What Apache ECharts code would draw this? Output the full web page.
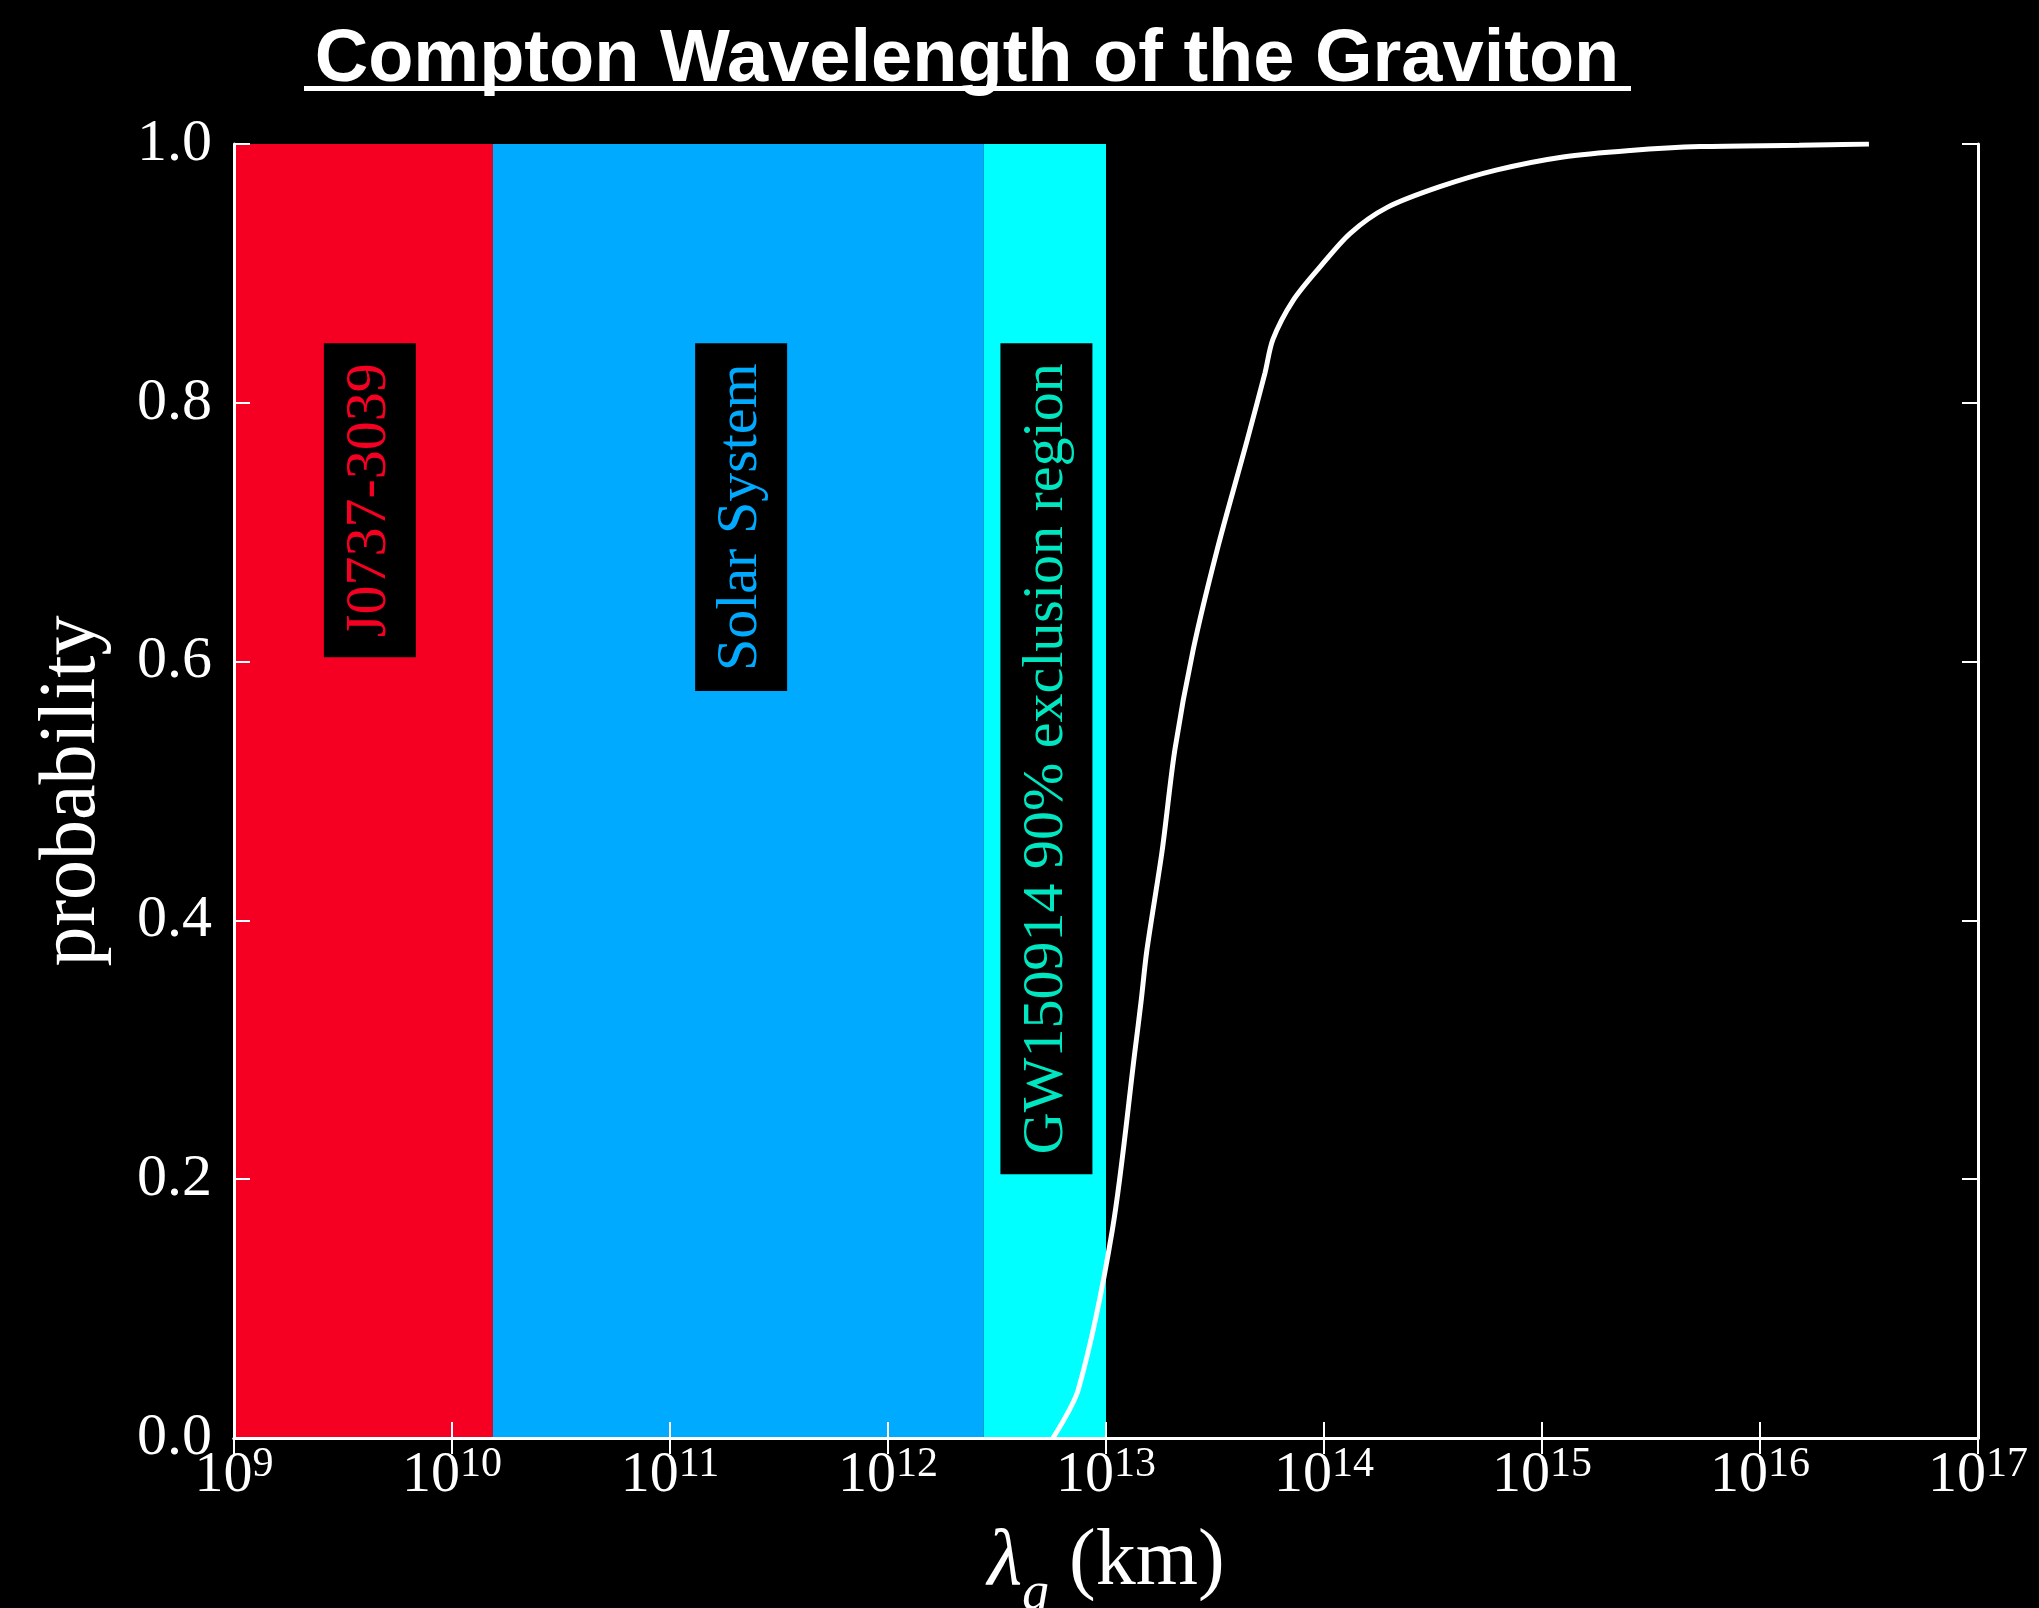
<!DOCTYPE html>
<html>
<head>
<meta charset="utf-8">
<title>Compton Wavelength of the Graviton</title>
<script src="https://cdn.jsdelivr.net/npm/echarts@6/dist/echarts.min.js"></script>
<style>
  html, body { margin: 0; padding: 0; background: #000; }
  #main { width: 2039px; height: 1608px; }
</style>
</head>
<body>
<div id="main"></div>
<script>
// lambda_g in km vs cumulative probability
const lambdaKm = [5.71e12, 7.45e12, 1.07e13, 1.36e13, 1.45e13, 1.54e13, 1.81e13, 2.07e13,
  2.51e13, 3.23e13, 4.44e13, 5.36e13, 5.83e13, 7.21e13, 9.59e13, 1.32e14, 1.95e14,
  3.40e14, 6.22e14, 1.25e15, 2.54e15, 5.31e15, 1.51e16, 3.16e16];
const probability = [0, 0.037, 0.161, 0.300, 0.338, 0.377, 0.454, 0.532,
  0.609, 0.686, 0.771, 0.823, 0.849, 0.879, 0.905, 0.931, 0.951,
  0.967, 0.980, 0.990, 0.995, 0.998, 0.999, 1.0];

// excluded regions (km)
const bandNames = ['J0737-3039', 'Solar System', 'GW150914 90% exclusion region'];
const bandStart = [1e9, 1.54e10, 2.75e12];
const bandEnd = [1.54e10, 2.75e12, 1e13];
// where each vertical label sits (top of its box)
const labelX = [4.2e9, 2.12e11, 5.33e12];
const labelTop = [0.846, 0.846, 0.846];

const bandColors = ['#f50022', '#00aaff', '#00ffff'];
const textColors = ['#f50022', '#00aaff', '#00e6c0'];
const serif = '"Liberation Serif", "DejaVu Serif", serif';

const chart = echarts.init(document.getElementById('main'));

const axisLine = { show: true, lineStyle: { color: '#fff', width: 3 } };
const axisTick = { show: true, inside: true, length: 16, lineStyle: { color: '#fff', width: 2 } };

const option = {
  backgroundColor: '#000',
  animation: false,
  graphic: [
    {
      type: 'text', x: 967, y: 24, z: 20,
      style: {
        text: 'Compton Wavelength of the Graviton',
        font: 'bold 74px "Liberation Sans", Arial, sans-serif',
        fill: '#fff', align: 'center', verticalAlign: 'top'
      }
    },
    { type: 'rect', shape: { x: 304, y: 86, width: 1327, height: 5 }, style: { fill: '#fff' }, z: 20 }
  ],
  grid: { left: 234, right: 61, top: 144, bottom: 170, outerBoundsMode: 'none', containLabel: false },
  xAxis: [
    {
      type: 'log', logBase: 10, min: 1e9, max: 1e17, splitNumber: 8, position: 'bottom', z: 10,
      axisLine: axisLine, axisTick: axisTick, splitLine: { show: false }, minorTick: { show: false },
      axisLabel: {
        margin: 6,
        formatter: function (v) {
          return '{b|10}{e|' + Math.round(Math.log10(v)) + '}';
        },
        rich: {
          b: { fontFamily: serif, fontSize: 58, lineHeight: 64, color: '#fff' },
          e: { fontFamily: serif, fontSize: 42, lineHeight: 42, color: '#fff', verticalAlign: 'top' }
        }
      },
      name: '{l|λ}{g|g}{k| (km)}',
      nameLocation: 'middle', nameGap: 80,
      nameTextStyle: {
        rich: {
          l: { fontFamily: serif, fontStyle: 'italic', fontSize: 80, lineHeight: 90, color: '#fff' },
          g: { fontFamily: serif, fontStyle: 'italic', fontSize: 54, lineHeight: 54, color: '#fff', verticalAlign: 'bottom', padding: [0, 0, -14, 0] },
          k: { fontFamily: serif, fontSize: 80, lineHeight: 90, color: '#fff' }
        }
      }
    },
    {
      type: 'log', logBase: 10, min: 1e9, max: 1e17, splitNumber: 8, position: 'top', z: 10,
      axisLine: axisLine, axisTick: axisTick, splitLine: { show: false }, axisLabel: { show: false }
    }
  ],
  yAxis: [
    {
      type: 'value', min: 0, max: 1, interval: 0.2, position: 'left', z: 10,
      axisLine: axisLine, axisTick: axisTick, splitLine: { show: false },
      axisLabel: {
        margin: 22, fontFamily: serif, fontSize: 60, color: '#fff',
        formatter: function (v) { return v.toFixed(1); }
      },
      name: 'probability', nameLocation: 'middle', nameGap: 121,
      nameTextStyle: { fontFamily: serif, fontSize: 80, color: '#fff' }
    },
    {
      type: 'value', min: 0, max: 1, interval: 0.2, position: 'right', z: 10,
      axisLine: axisLine, axisTick: axisTick, splitLine: { show: false }, axisLabel: { show: false }
    }
  ],
  series: [
    {
      type: 'custom', z: 1, silent: true,
      data: bandNames.map(function (n, i) { return [bandStart[i], bandEnd[i], i]; }),
      renderItem: function (params, api) {
        const p0 = api.coord([api.value(0), 1]);
        const p1 = api.coord([api.value(1), 0]);
        return {
          type: 'rect',
          shape: { x: p0[0], y: p0[1], width: p1[0] - p0[0], height: p1[1] - p0[1] },
          style: { fill: bandColors[api.value(2)] }
        };
      }
    },
    {
      type: 'scatter', z: 2, symbolSize: 0, silent: true,
      itemStyle: { opacity: 1 },
      data: bandNames.map(function (n, i) {
        return {
          name: n, value: [labelX[i], labelTop[i]],
          label: { color: textColors[i] }
        };
      }),
      label: {
        show: true, position: 'inside', formatter: '{b}',
        rotate: 90, align: 'right', verticalAlign: 'middle',
        fontFamily: serif, fontSize: 58, lineHeight: 64,
        backgroundColor: '#000', padding: [14, 20, 14, 20]
      }
    },
    {
      type: 'line', z: 3, symbol: 'none', smooth: 0.3,
      lineStyle: { color: '#fff', width: 5 },
      data: lambdaKm.map(function (x, i) { return [x, probability[i]]; })
    }
  ]
};

chart.setOption(option);
</script>
</body>
</html>
